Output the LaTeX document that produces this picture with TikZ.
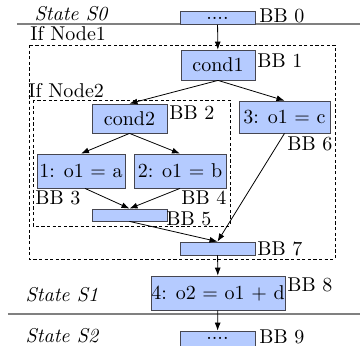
\documentclass[tikz,border=0pt]{standalone}
\usepackage{tikz}
\definecolor{bbfill}{RGB}{181, 203, 255}
\definecolor{bbline}{RGB}{70, 70, 80}
\usetikzlibrary{arrows.meta, positioning, calc}

\begin{document}
\begin{tikzpicture}[
    x=0.5pt, y=-0.5pt,
    bblock/.style={draw=bbline, fill=bbfill, inner sep=0pt, align=center},
    bbname/.style={inner sep=0pt, anchor=west},
    statename/.style={inner sep=0pt, font=\itshape},
    region/.style={draw, dash pattern=on 1.6pt off 1.2pt, thin},
    flow/.style={-{Latex[length=4pt, width=3pt]}, thin}
]
    \useasboundingbox (0,0) rectangle (360,345);

    % state borders
    \draw[gray, semithick] (17,24) -- (360,24);
    \draw[gray, semithick] (8,314) -- (360,314);
    \node[statename] (s0) at (71,14) {State S0};
    \node[statename] (s1) at (62,295) {State S1};
    \node[statename] (s2) at (62,336) {State S2};

    % if regions
    \draw[region] (29,45) rectangle (335,259);
    \draw[region] (33,100) rectangle (230,226);
    \node[inner sep=0pt, anchor=west] (if1) at (30,34) {If Node1};
    \node[inner sep=0pt, anchor=west] (if2) at (28,91) {If Node2};

    % basic blocks
    \node[bblock, minimum width=37.5pt, minimum height=6.5pt] (bb0) at (217.5,18) {....};
    \node[bblock, minimum width=37pt, minimum height=15pt] (bb1) at (218,65) {cond1};
    \node[bblock, minimum width=37.5pt, minimum height=14.5pt] (bb2) at (129.5,118.5) {cond2};
    \node[bblock, minimum width=45.5pt, minimum height=16pt] (bb6) at (284.5,117) {3: o1 = c};
    \node[bblock, minimum width=44pt, minimum height=17pt] (bb3) at (81,171) {1: o1 = a};
    \node[bblock, minimum width=46pt, minimum height=17pt] (bb4) at (180,171) {2: o1 = b};
    \node[bblock, minimum width=37.5pt, minimum height=6pt] (bb5) at (129.5,215) {};
    \node[bblock, minimum width=37.5pt, minimum height=6.5pt] (bb7) at (217.5,248.5) {};
    \node[bblock, minimum width=67pt, minimum height=17pt] (bb8) at (218,293) {4: o2 = o1 + d};
    \node[bblock, minimum width=37.5pt, minimum height=7.5pt] (bb9) at (217.5,338.5) {....};

    % block names
    \node[bbname] (n0) at (259,16) {BB 0};
    \node[bbname] (n1) at (257,61) {BB 1};
    \node[bbname] (n2) at (169,113) {BB 2};
    \node[bbname] (n6) at (287,144) {BB 6};
    \node[bbname] (n3) at (35,198) {BB 3};
    \node[bbname] (n4) at (181,198) {BB 4};
    \node[bbname] (n5) at (166,219) {BB 5};
    \node[bbname] (n7) at (257,249) {BB 7};
    \node[bbname] (n8) at (287,285) {BB 8};
    \node[bbname] (n9) at (259,337) {BB 9};

    % control flow
    \draw[flow] (bb0) -- (bb1);
    \draw[flow] (bb1.south) -- (bb2.north);
    \draw[flow] (bb1.south) -- (bb6.north);
    \draw[flow] (bb2.south) -- (bb3.north);
    \draw[flow] (bb2.south) -- (bb4.north);
    \draw[flow] ($(bb3.south)+(4,0)$) -- (bb5.north);
    \draw[flow] (bb4.south) -- (bb5.north);
    \draw[flow] (bb5.south) -- (bb7.north);
    \draw[flow] (bb6.south) -- (bb7.north);
    \draw[flow] (bb7) -- (bb8);
    \draw[flow] (bb8) -- (bb9);
\end{tikzpicture}
\end{document}
